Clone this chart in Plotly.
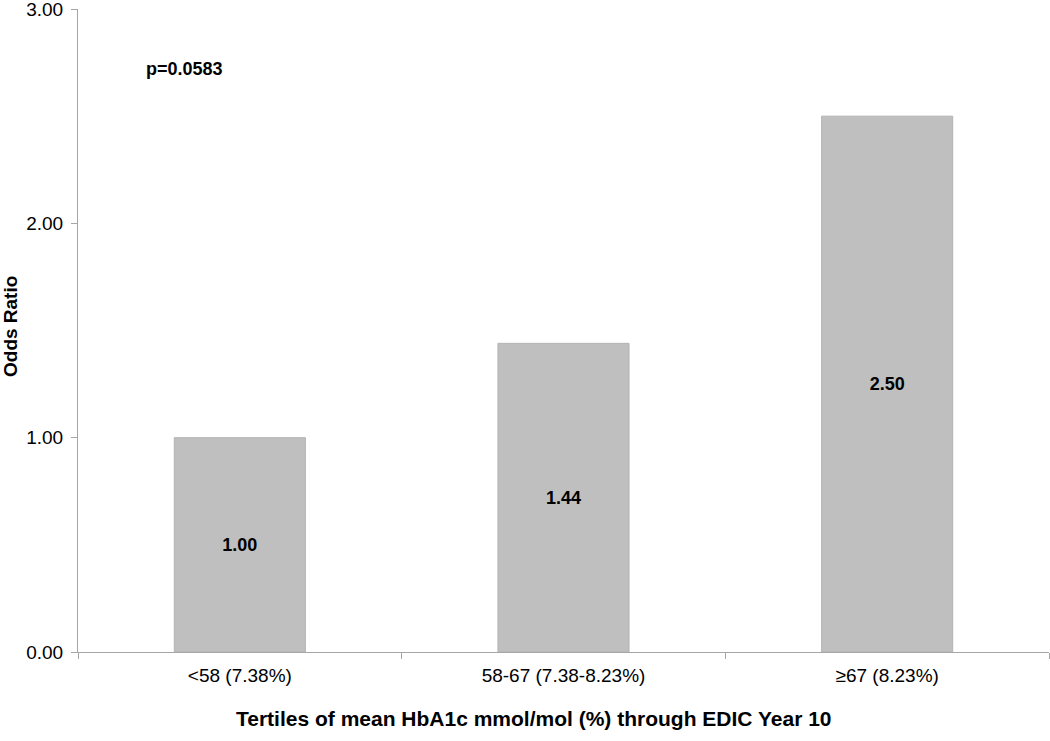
import plotly.graph_objects as go

categories = ["<58 (7.38%)", "58-67 (7.38-8.23%)", "≥67 (8.23%)"]
odds_ratios = [1.00, 1.44, 2.50]
bar_labels = ["1.00", "1.44", "2.50"]
y_ticks = [0, 1, 2, 3]
y_tick_labels = ["0.00", "1.00", "2.00", "3.00"]
p_value_text = "p=0.0583"
x_title = "Tertiles of mean HbA1c mmol/mol (%) through EDIC Year 10"
y_title = "Odds Ratio"

FONT = "Liberation Sans, Arial, Helvetica, sans-serif"
T, B, L = 9, 89, 78
PH = 741 - T - B
PW = 1050 - L - 1

fig = go.Figure()
fig.add_trace(go.Bar(
    x=categories,
    y=odds_ratios,
    text=bar_labels,
    textposition="inside",
    insidetextanchor="middle",
    textfont=dict(family=FONT, size=18, color="black", weight="bold"),
    marker=dict(color="#bfbfbf", line=dict(color="#b3b3b3", width=1)),
    width=0.405,
    hoverinfo="skip",
))

fig.add_annotation(
    text="<b>" + p_value_text + "</b>",
    xref="paper", yref="paper",
    x=(184 - L) / PW, y=(741 - B - 69) / PH,
    xanchor="center", yanchor="middle",
    showarrow=False,
    font=dict(family=FONT, size=18, color="black"),
)
fig.add_annotation(
    text="<b>" + x_title + "</b>",
    xref="paper", yref="paper",
    x=(534 - L) / PW, y=-(718 - (741 - B)) / PH,
    yanchor="middle", xanchor="center",
    showarrow=False,
    font=dict(family=FONT, size=21, color="black"),
)
fig.add_annotation(
    text="<b>" + y_title + "</b>",
    xref="paper", yref="paper",
    x=-(L - 10) / PW, y=(741 - B - 327) / PH,
    xanchor="center", yanchor="middle",
    textangle=-90,
    showarrow=False,
    font=dict(family=FONT, size=19, color="black"),
)

fig.update_layout(
    width=1050, height=741,
    margin=dict(l=L, r=1, t=T, b=B),
    plot_bgcolor="white",
    paper_bgcolor="white",
    showlegend=False,
    font=dict(family=FONT, color="black"),
)

fig.update_xaxes(
    automargin=False,
    showline=True, linecolor="#a6a6a6", linewidth=1,
    ticks="outside", tickson="boundaries", ticklen=6, tickcolor="#a6a6a6",
    tickfont=dict(family=FONT, size=19, color="black"),
    ticklabelstandoff=6,
    showgrid=False,
)

fig.update_yaxes(
    automargin=False,
    range=[0, 3],
    tickvals=y_ticks, ticktext=y_tick_labels,
    showline=True, linecolor="#a6a6a6", linewidth=1,
    ticks="outside", ticklen=6, tickcolor="#a6a6a6",
    tickfont=dict(family=FONT, size=19, color="black"),
    ticklabelstandoff=4,
    ticklabeloverflow="allow",
    showgrid=False, zeroline=False,
)

fig.write_html("out.html", config={"displayModeBar": False},
               post_script="document.body.style.margin='0px';")
